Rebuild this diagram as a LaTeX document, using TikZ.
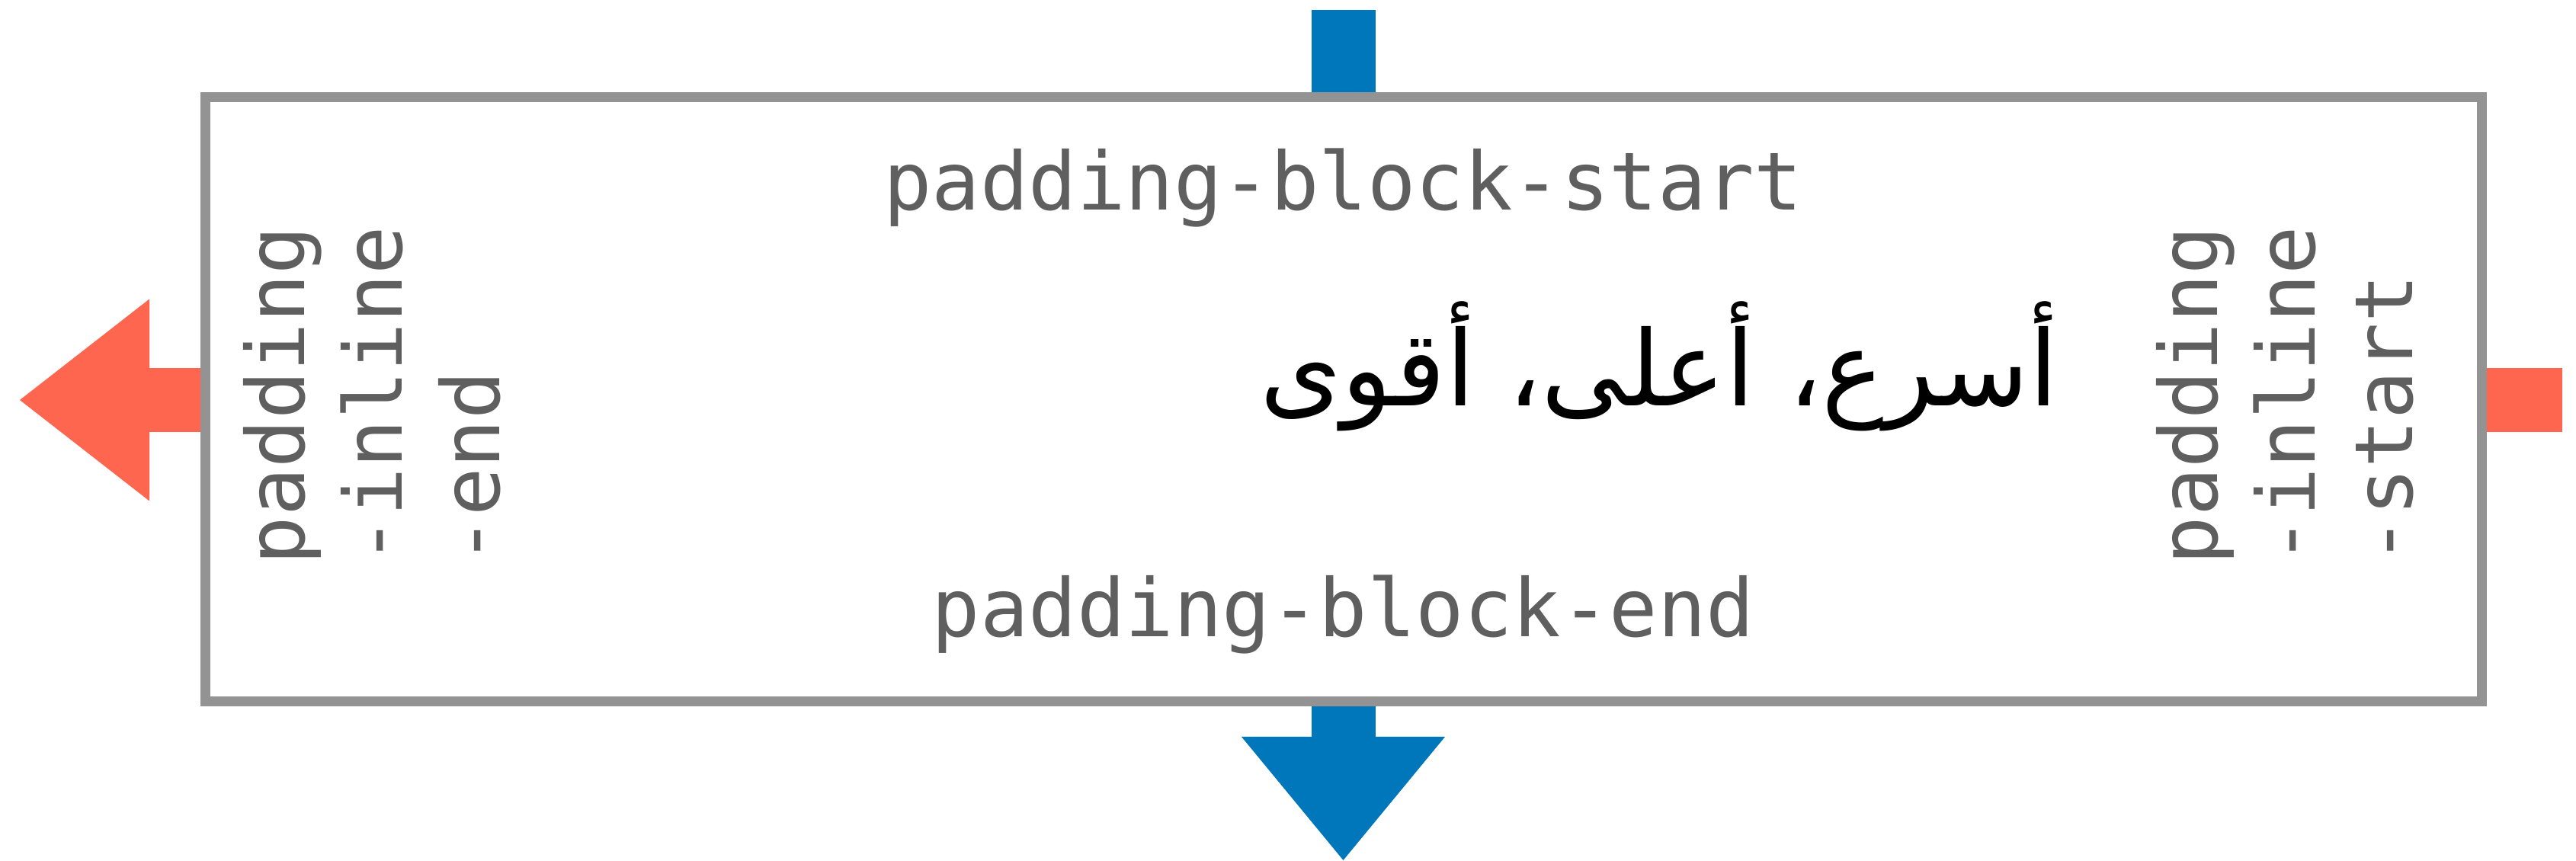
\documentclass[tikz,border=0pt]{standalone}
\usepackage{fontspec}
\usepackage{tikz}
\usetikzlibrary{positioning, arrows.meta}
\setmonofont{DejaVu Sans Mono}
\newfontfamily\arabicfont[Script=Arabic]{DejaVu Sans}
\TeXXeTstate=1

\definecolor{boxgray}{HTML}{939393}
\definecolor{textgray}{HTML}{5F5F5F}
\definecolor{blockblue}{HTML}{0077BB}
\definecolor{inlinered}{HTML}{FF6650}

\begin{document}
\begin{tikzpicture}[inner sep=0pt, line cap=butt,
		blockarrow/.style={draw=blockblue, line width=0.84cm, -{Triangle[width=2.67cm, length=1.62cm, line width=0pt]}},
		inlinearrow/.style={draw=inlinered, line width=0.84cm, -{Triangle[width=2.65cm, length=1.70cm, line width=0pt]}}]
			\tikzstyle{paddingbox}=[draw=boxgray, line width=0.13cm, fill=white, minimum width=29.87cm, minimum height=7.93cm]
			\tikzstyle{padlabel}=[text=textgray, font=\ttfamily\fontsize{30}{36.3}\selectfont]
			\tikzstyle{sidelabel}=[padlabel, align=left, rotate=90, anchor=base west]
			\useasboundingbox (0,0) rectangle (33.8,11.3);
			% free ends of the two flows
			\coordinate (BlockIn)   at (17.625,11.17);
			\coordinate (BlockOut)  at (17.625,0.01);
			\coordinate (InlineIn)  at (33.62,6.05);
			\coordinate (InlineOut) at (0.26,6.05);
			\draw[blockarrow]  (BlockIn)  -- (BlockOut);
			\draw[inlinearrow] (InlineIn) -- (InlineOut);
			% the box with its paddings
			\node[paddingbox] (Box) at (17.625,6.055) {};
			\node[padlabel, anchor=base] (BlockStart) at (17.625,8.54) {padding-block-start};
			\node[padlabel, anchor=base] (BlockEnd)   at (17.625,2.94) {padding-block-end};
			% base is the last line here
			\node[sidelabel] (InlineEnd)   at (6.55,3.88)  {padding\\-inline\\-end};
			\node[sidelabel] (InlineStart) at (31.65,3.88) {padding\\-inline\\-start};
			\node[anchor=base, font=\arabicfont\fontsize{39}{45}\selectfont] (Motto) at (21.77,5.97) {\beginR أسرع، أعلى، أقوى\endR};
		\end{tikzpicture}
\end{document}
